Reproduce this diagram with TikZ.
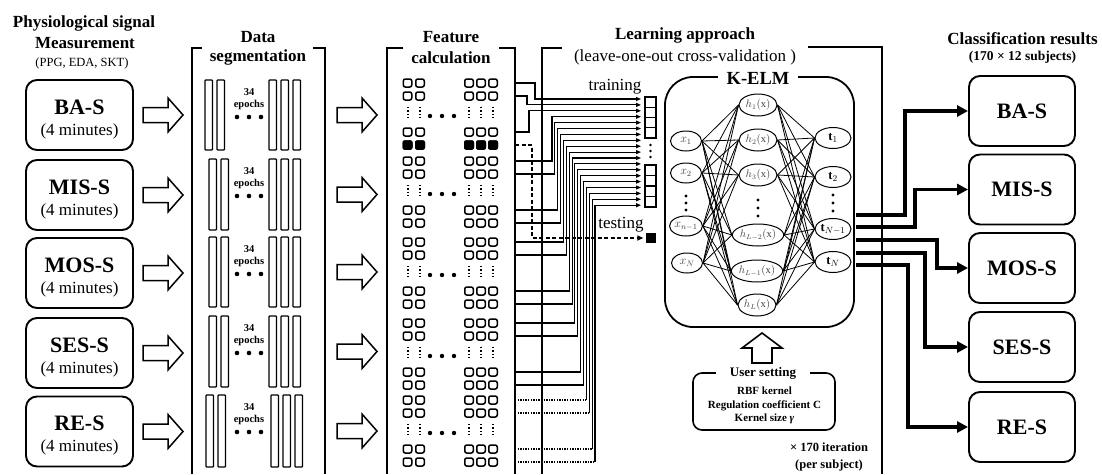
\documentclass[tikz,border=0pt]{standalone}
\usepackage{fontspec}
\setmainfont{Liberation Serif}
\usetikzlibrary{shapes.geometric,arrows.meta,calc}
\newcommand\fsz[2]{\fontsize{#1}{#2}\selectfont}
\begin{document}
\begin{tikzpicture}[x=1pt,y=-1pt,
 every node/.style={inner sep=0pt},
 lbox/.style={draw,line width=1.9pt,rounded corners=11pt,minimum width=107pt,minimum height=70pt},
 rbox/.style={draw,line width=1.9pt,rounded corners=11pt,minimum width=106pt,minimum height=70pt},
 brk/.style={line width=2.2pt},
 bar/.style={draw,line width=1.2pt,rounded corners=0.8pt},
 fsq/.style={draw,line width=1.5pt,rounded corners=2pt},
 conn/.style={line width=1.1pt,-{Triangle[length=5pt,width=4pt]}},
 dotln/.style={line width=1.3pt,dash pattern=on 1.3pt off 1.3pt},
 vdots/.style={line width=1.3pt,dash pattern=on 1.3pt off 2pt},
 inp/.style={draw,ellipse,line width=1pt,minimum width=31pt,minimum height=20pt,font=\fsz{12pt}{13pt},text=black!75},
 hid/.style={draw,ellipse,line width=1pt,minimum width=38pt,minimum height=22pt,font=\fsz{10.5pt}{11pt},text=black!75},
 outp/.style={draw,ellipse,line width=1pt,minimum width=36pt,minimum height=21pt,font=\fsz{12.5pt}{13pt}},
 net/.style={line width=0.8pt},
 thk/.style={line width=3.2pt,-{Triangle[length=11pt,width=11pt]}},
 harrow/.pic={\draw[line width=1.5pt,fill=white,line join=miter] (0,-7.5) -- (25,-7.5) -- (25,-17) -- (40,0) -- (25,17) -- (25,7.5) -- (0,7.5) -- cycle;},
 bt/.style={font=\fsz{17pt}{19pt}\bfseries},
]
\fill[white] (0,0) rectangle (1102,474);
\useasboundingbox (0,0) rectangle (1102,474);

% ---------- left column ----------
\node[bt] (t1a) at (84,23) {Physiological signal};
\node[bt] (t1b) at (85,43) {Measurement};
\node[font=\fsz{12.5pt}{14pt}] (t1c) at (82,63) {(PPG, EDA, SKT)};
\foreach \n/\t/\y in {ba/BA-S/115, mis/MIS-S/195, mos/MOS-S/273, ses/SES-S/353, re/RE-S/431.5} {
  \node[lbox] (L\n) at (79.5,\y) {};
  \node[font=\fsz{22pt}{24pt}\bfseries] (L\n t) at ($(L\n.center)+(0,-8)$) {\t};
  \node[font=\fsz{17pt}{19pt}] (L\n m) at ($(L\n.center)+(0,16)$) {(4 minutes)};
  \pic at (143,\y) {harrow};
}

% ---------- data segmentation ----------
\draw[brk] (202,48) -- (192,48) -- (192,474);
\draw[brk] (313,48) -- (325,48) -- (325,474);
\node[bt] (dsa) at (258,37) {Data};
\node[bt] (dsb) at (258,57) {segmentation};
\foreach \tp/\bt/\lo/\ro [count=\g] in {80/150/205/269, 159/230/209/269, 237/307/209/269, 316/387/209/269, 395/467/206/271} {
  \foreach \dx in {0,12} \draw[bar] ({\lo+\dx},\tp) rectangle ({\lo+\dx+7.5},\bt);
  \foreach \dx in {0,12,24} \draw[bar] ({\ro+\dx},\tp) rectangle ({\ro+\dx+7.5},\bt);
  \node[font=\fsz{10.5pt}{12pt}\bfseries] (ep\g a) at (249,{\tp+12}) {34};
  \node[font=\fsz{10.5pt}{12pt}\bfseries] (ep\g b) at (249,{\tp+25}) {epochs};
  \foreach \xx in {237,249,261} \fill (\xx,{\tp+37}) circle (2.3);
  \pic at (337,{(\tp+\bt)/2}) {harrow};
}

% ---------- feature calculation ----------
\draw[brk] (403,48) -- (387,48) -- (387,474);
\draw[brk] (499,48) -- (515,48) -- (515,474);
\node[bt] (fca) at (451,37) {Feature};
\node[bt] (fcb) at (451,58) {calculation};
\foreach \c in {116,194,275,356,433} {
  \foreach \dr in {-33,-20,16,29} {
    \foreach \xx in {407.5,420,469,481,493} {
      \draw[fsq] ({\xx-4.25},{\c+\dr-4}) rectangle ({\xx+4.25},{\c+\dr+4});
    }
  }
  \foreach \xx in {408,420,469,481,493} \draw[vdots] (\xx,{\c-9}) -- (\xx,{\c+3});
  \foreach \xx in {430,442,454} \fill (\xx,\c) circle (2.2);
}
\foreach \xx in {407.5,420,469,481,493}
  \fill[rounded corners=2pt] ({\xx-5},{145-4.75}) rectangle ({\xx+5},{145+4.75});

% ---------- learning approach ----------
\draw[brk] (562,48) -- (542,48) -- (542,474);
\draw[brk] (808,47) -- (882,47) -- (882,474);
\node[bt] (laa) at (685,35) {Learning approach};
\node[font=\fsz{17pt}{19pt}] (lab) at (685,57) {(leave-one-out cross-validation )};

% training vector
\foreach \k in {0,...,3} \draw[line width=1.3pt] (645,{97+10.25*\k}) rectangle (656,{97+10.25*(\k+1)});
\foreach \k in {0,...,3} \draw[line width=1.3pt] (645,{165+10.5*\k}) rectangle (656,{165+10.5*(\k+1)});
\foreach \yy in {145,151,157} \fill (650.5,\yy) circle (1.3);
\node[font=\fsz{17pt}{19pt}] (trl) at (615,87) {training};
\node[font=\fsz{17pt}{19pt}] (tsl) at (621,225) {testing};
\node[fill=black,minimum width=10pt,minimum height=10pt] (testsq) at (650.5,238) {};

% staircase connectors
\foreach \r/\xv [count=\i from 0] in {83/535,96/527,132/529,161/552,174/554.9,210/557.7,223/560.6,242/563.5,255/566.3,291/569.2,304/572.1,323/574.9,336/577.8,372/580.7,385/583.5,400/586.4,413/589.3,449/592.1,462/595} {
  \pgfmathsetmacro\av{99+5.9*\i}
  \ifnum\i>14
    \draw[dotln] (515,\r) -- (\xv,\r);
    \draw[conn] (\xv,\r) -- (\xv,\av) -- (641,\av);
  \else
    \draw[conn] (515,\r) -- (\xv,\r) -- (\xv,\av) -- (641,\av);
  \fi
}
\coordinate (tsstart) at (515,145);
\draw[line width=1.5pt,dash pattern=on 4pt off 2.5pt,-{Triangle[length=6pt,width=5pt]}] (tsstart) -- (532,145) -- (532,238) -- ([xshift=-2pt]testsq.west);

% K-ELM box
\draw[line width=1.8pt,rounded corners=28pt] (665,77) rectangle (854,327);
\node[fill=white,inner xsep=9pt,inner ysep=3pt,font=\fsz{18.5pt}{20pt}\bfseries] (kelm) at (758,78) {K-ELM};

% network nodes
\node[inp] (x1) at (686,141) {$x_1$};
\node[inp] (x2) at (686,173) {$x_2$};
\node[inp] (x3) at (686,226) {$x_{n-1}$};
\node[inp] (x4) at (687,263) {$x_N$};
\foreach \yy in {196,203,210} \fill (686,\yy) circle (1.6);
\node[hid] (h1) at (758,105) {$h_1(\mathrm{x})$};
\node[hid] (h2) at (758,140) {$h_2(\mathrm{x})$};
\node[hid] (h3) at (758,175) {$h_3(\mathrm{x})$};
\node[hid] (h4) at (758,235) {$h_{L-2}(\mathrm{x})$};
\node[hid] (h5) at (757,271) {$h_{L-1}(\mathrm{x})$};
\node[hid] (h6) at (757,305) {$h_L(\mathrm{x})$};
\foreach \yy in {200,208,216} \fill (758,\yy) circle (1.6);
\node[outp] (o1) at (833,138) {$\mathbf{t}_1$};
\node[outp] (o2) at (833,177) {$\mathbf{t}_2$};
\node[outp] (o3) at (833,229) {$\mathbf{t}_{N-1}$};
\node[outp] (o4) at (833,262) {$\mathbf{t}_N$};
\foreach \yy in {195,203,211} \fill (833,\yy) circle (1.6);
\foreach \a in {x1,x2,x3,x4} \foreach \b in {h1,h2,h3,h4,h5,h6} \draw[net] (\a.east) -- (\b.west);
\foreach \a in {h1,h2,h3,h4,h5,h6} \foreach \b in {o1,o2,o3,o4} \draw[net] (\a.east) -- (\b.west);

% user setting
\draw[line width=1.6pt,fill=white,line join=miter] (762,333) -- (782,348) -- (772,348) -- (772,363) -- (752,363) -- (752,348) -- (742,348) -- cycle;
\draw[line width=1.6pt,rounded corners=9pt] (693,373) rectangle (835,430);
\node[fill=white,inner xsep=14pt,inner ysep=2pt,font=\fsz{13pt}{15pt}\bfseries] (us) at (763,373) {User setting};
\node[align=center,font=\fsz{11pt}{13.5pt}\bfseries] (usb) at (764.5,405.5) {RBF kernel\\Regulation coefficient C\\Kernel size \textit{γ}};
\node[align=center,font=\fsz{12.5pt}{17pt}\bfseries] (iter) at (829,457) {× 170 iteration\\(per subject)};

% ---------- classification results ----------
\node[bt] (cra) at (1022.5,39) {Classification results};
\node[font=\fsz{13.5pt}{15pt}\bfseries] (crb) at (1022.5,57) {(170 × 12 subjects)};
\foreach \n/\t/\y in {ba/BA-S/111, mis/MIS-S/189.5, mos/MOS-S/268, ses/SES-S/347, re/RE-S/427} {
  \node[rbox,font=\fsz{22pt}{24pt}\bfseries] (R\n) at (1022,\y) {\t};
}
\coordinate (q1) at (856,215);
\coordinate (q2) at (856,227);
\coordinate (q3) at (856,240);
\coordinate (q4) at (856,253);
\coordinate (q5) at (856,265);
\draw[thk] (q1) -- (905,215) |- (Rba.west);
\draw[thk] (q2) -- (915,227) |- (Rmis.west);
\draw[thk] (q3) -- (937,240) |- (Rmos.west);
\draw[thk] (q4) -- (925,253) |- (Rses.west);
\draw[thk] (q5) -- (908,265) |- (Rre.west);
\end{tikzpicture}
\end{document}
